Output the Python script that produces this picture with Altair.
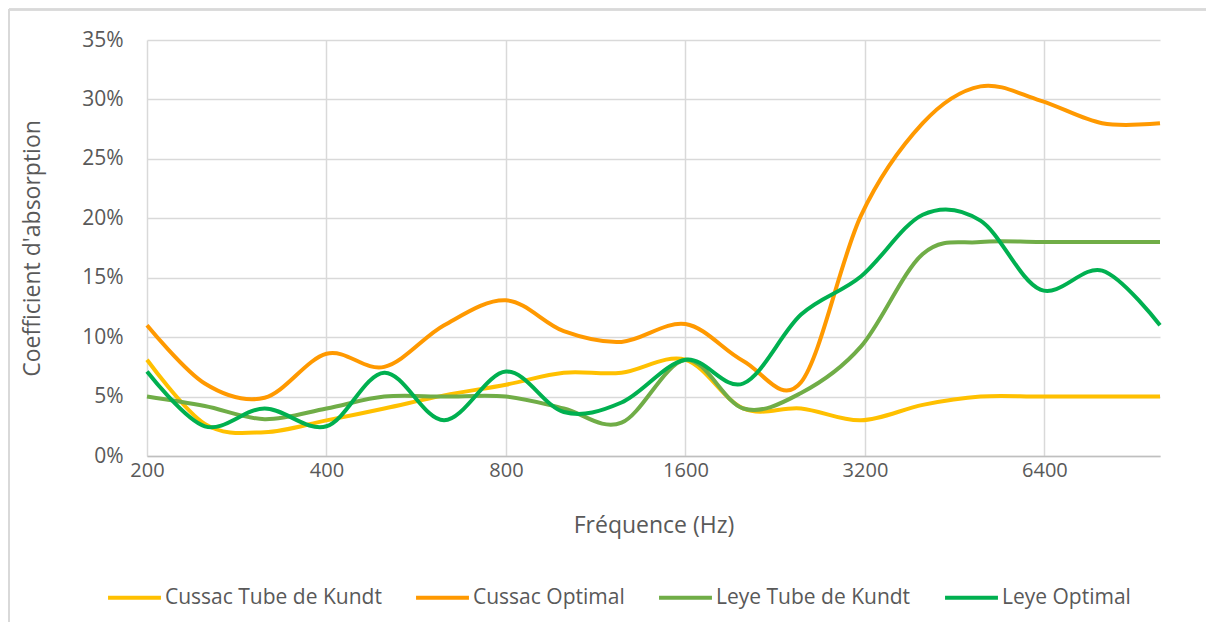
import altair as alt
import pandas as pd

freqs = [200, 250, 315, 400, 500, 630, 800, 1000, 1250, 1600, 2000, 2500, 3150, 4000, 5000, 6300, 8000, 10000]
cussac_kundt = [8.1, 2.7, 2.0, 3.0, 4.0, 5.1, 6.0, 7.0, 7.0, 8.1, 4.0, 4.0, 3.0, 4.3, 5.0, 5.0, 5.0, 5.0]
cussac_optimal = [11.0, 6.1, 4.9, 8.6, 7.5, 11.0, 13.1, 10.5, 9.6, 11.1, 8.0, 6.2, 20.2, 28.0, 31.1, 29.9, 28.0, 28.0]
leye_kundt = [5.0, 4.2, 3.1, 4.0, 5.0, 5.0, 5.0, 4.0, 2.8, 8.1, 4.0, 5.3, 9.2, 17.0, 18.0, 18.0, 18.0, 18.0]
leye_optimal = [7.1, 2.5, 4.0, 2.5, 7.0, 3.0, 7.1, 3.7, 4.5, 8.1, 6.1, 11.9, 15.1, 20.3, 19.8, 14.0, 15.6, 11.0]

series_names = ["Cussac Tube de Kundt", "Cussac Optimal", "Leye Tube de Kundt", "Leye Optimal"]
series_colors = ["#FFC000", "#FF9900", "#70AD47", "#00B050"]
x_ticks = [200, 400, 800, 1600, 3200, 6400]
y_ticks = [0, 0.05, 0.10, 0.15, 0.20, 0.25, 0.30, 0.35]

rows = []
for name, vals in zip(series_names, [cussac_kundt, cussac_optimal, leye_kundt, leye_optimal]):
    for f, v in zip(freqs, vals):
        rows.append({"freq": f, "value": v / 100.0, "series": name})
df = pd.DataFrame(rows)

FONT = "Open Sans"
GREY = "#595959"

lines = alt.Chart(df).mark_line(interpolate="cardinal", strokeWidth=4, clip=False).encode(
    x=alt.X("freq:Q",
            scale=alt.Scale(type="log", base=2, domain=[200, 10000], nice=False),
            axis=alt.Axis(values=x_ticks, format="d", title="Fréquence (Hz)",
                          ticks=False, labelPadding=4, titlePadding=34,
                          labelFontSize=20, titleFontSize=23,
                          domainColor="#BFBFBF", domainWidth=1.5,
                          gridColor="#D9D9D9", gridWidth=1.5,
                          labelFlush=False)),
    y=alt.Y("value:Q",
            scale=alt.Scale(domain=[0, 0.35], nice=False),
            axis=alt.Axis(values=y_ticks, format=".0%", title="Coefficient d'absorption",
                          ticks=False, domain=False, labelPadding=24, titlePadding=37,
                          labelFontSize=21, titleFontSize=23,
                          gridColor="#D9D9D9", gridWidth=1.5)),
    color=alt.Color("series:N",
                    scale=alt.Scale(domain=series_names, range=series_colors),
                    sort=series_names,
                    legend=alt.Legend(title=None, orient="none", direction="horizontal",
                                      legendX=-41, legendY=529, columns=4,
                                      symbolType="stroke", symbolSize=2800, symbolStrokeWidth=4,
                                      labelFontSize=21, labelFont=FONT, labelColor=GREY,
                                      labelOffset=2, columnPadding=26, padding=0,
                                      labelLimit=400)),
)

frame_top = alt.Chart(df).mark_rule(color="#D9D9D9", strokeWidth=1.5).encode(
    x=alt.value(-138), x2=alt.value(1059), y=alt.value(-30.5)
)
frame_left = alt.Chart(df).mark_rule(color="#D9D9D9", strokeWidth=1.5).encode(
    x=alt.value(-138), y=alt.value(-31), y2=alt.value(582)
)

chart = alt.layer(frame_top, frame_left, lines).properties(
    width=1013, height=416,
    padding={"left": 139, "top": 32, "right": 46, "bottom": 166},
    autosize=alt.AutoSizeParams(type="none"),
).configure_view(stroke=None).configure_axis(
    labelFont=FONT, labelColor=GREY,
    titleFont=FONT, titleColor=GREY, titleFontWeight="normal",
)

chart.save("out.html", embed_options={"renderer": "svg", "actions": False})
